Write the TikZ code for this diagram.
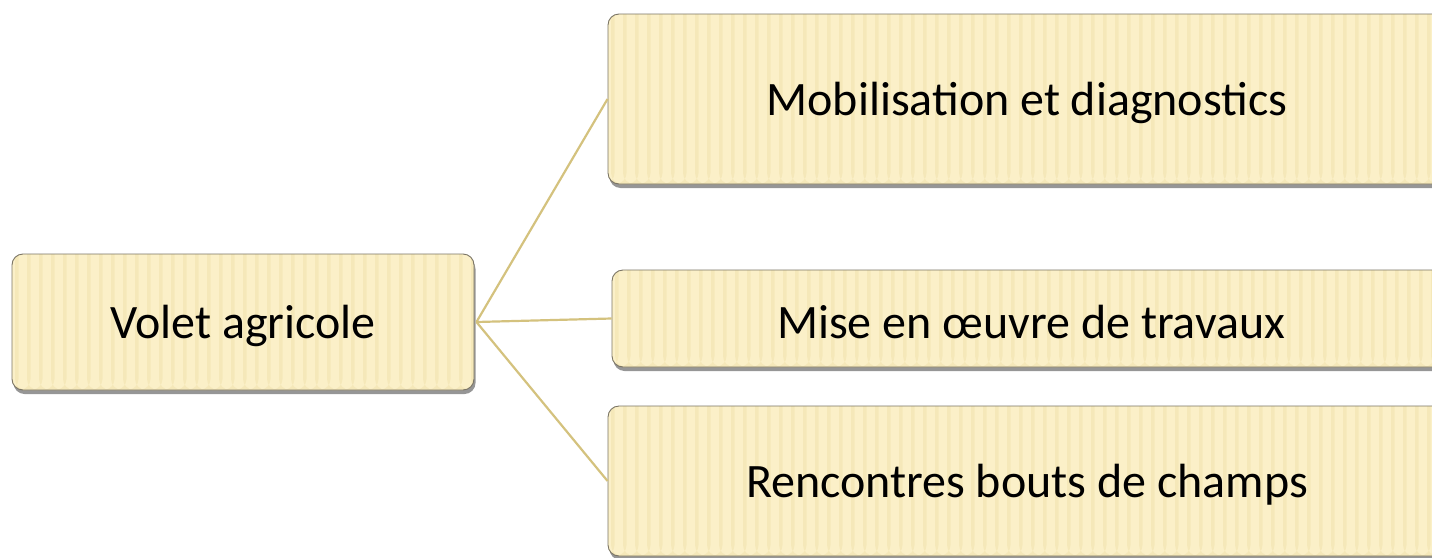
\documentclass[tikz,border=0pt]{standalone}
\usepackage{fontspec}
\setmainfont{Carlito}
\usetikzlibrary{shadows}
\definecolor{boxfill}{HTML}{FBF0C8}
\definecolor{stripecol}{HTML}{EFDFA8}
\definecolor{boxdraw}{HTML}{7A7464}
\definecolor{linkcol}{HTML}{D4C27E}
\newcommand\dnshift[1]{\raisebox{-4pt}[\height][\depth]{#1}}
\tikzset{
  box/.style={draw=boxdraw, line width=0.9pt, fill=boxfill, rounded corners=11pt,
    drop shadow={shadow xshift=1.5pt, shadow yshift=-4pt, opacity=0.55, fill=black!75},
    font=\fontsize{48}{58}\selectfont, inner sep=0pt,
    path picture={\foreach \i in {0,...,75}
      \fill[stripecol, opacity=0.45] ([xshift=\i*12pt+3pt]path picture bounding box.south west) rectangle ++(3.5pt,600pt);}},
  link/.style={draw=linkcol, line width=2.2pt}
}
\begin{document}
\begin{tikzpicture}[x=1pt,y=-1pt]
\useasboundingbox (0,0) rectangle (1432,557);
\clip (0,0) rectangle (1432,557);
\node[box, minimum width=462pt, minimum height=136pt] (root) at (243,322) {\dnshift{Volet agricole}};
\node[box, minimum width=838pt, minimum height=170pt] (a) at (1027,99) {\dnshift{Mobilisation et diagnostics}};
\node[box, minimum width=838pt, minimum height=97pt] (b) at (1031,318.5) {\dnshift{Mise en œuvre de travaux}};
\node[box, minimum width=838pt, minimum height=150pt] (c) at (1027,481) {\dnshift{Rencontres bouts de champs}};
\coordinate (r) at ([xshift=2pt]root.east);
\draw[link] (r) -- (a.west);
\draw[link] (r) -- (b.west);
\draw[link] (r) -- (c.west);
\end{tikzpicture}
\end{document}
